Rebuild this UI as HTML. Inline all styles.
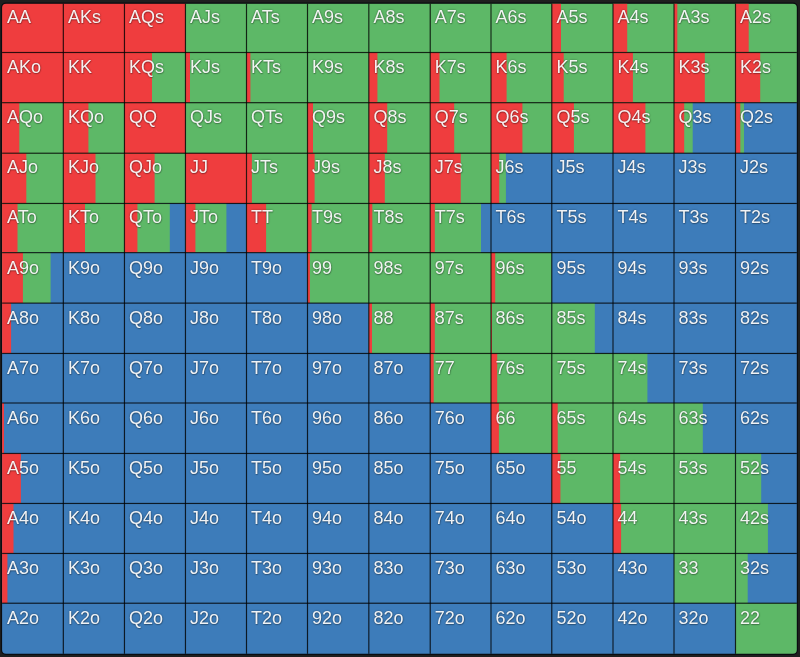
<!DOCTYPE html>
<html><head><meta charset="utf-8"><style>
html,body{margin:0;padding:0;background:#1f1f1f;width:800px;height:657px;overflow:hidden}
svg{position:absolute;left:0;top:0}
#t{position:absolute;left:0;top:0;width:800px;height:657px}
#t b{position:absolute;font:400 18px/18px "Liberation Sans",sans-serif;color:rgba(255,255,255,.93);text-shadow:0 0 2px rgba(0,0,0,.45),0.5px 0.5px 1px rgba(0,0,0,.25);white-space:nowrap}
</style></head><body>
<svg width="800" height="657" viewBox="0 0 800 657">
<defs><clipPath id="cp"><rect x="2.10" y="3.80" width="794.70" height="650.00" rx="4"/></clipPath></defs>
<rect x="0.90" y="2.60" width="797.10" height="652.40" rx="5" fill="#0a0d11"/>
<g><g clip-path="url(#cp)">
<rect x="1.50" y="3.20" width="61.80" height="49.30" fill="#ef3d3e"/>
<rect x="63.30" y="3.20" width="61.16" height="49.30" fill="#ef3d3e"/>
<rect x="124.46" y="3.20" width="61.00" height="49.30" fill="#ef3d3e"/>
<rect x="185.46" y="3.20" width="61.04" height="49.30" fill="#5db867"/>
<rect x="246.50" y="3.20" width="61.00" height="49.30" fill="#5db867"/>
<rect x="307.50" y="3.20" width="61.35" height="49.30" fill="#5db867"/>
<rect x="368.85" y="3.20" width="61.35" height="49.30" fill="#5db867"/>
<rect x="430.20" y="3.20" width="60.80" height="49.30" fill="#5db867"/>
<rect x="491.00" y="3.20" width="60.80" height="49.30" fill="#5db867"/>
<rect x="551.80" y="3.20" width="61.20" height="49.30" fill="#5db867"/><rect x="551.80" y="3.20" width="9.20" height="49.30" fill="#ef3d3e"/>
<rect x="613.00" y="3.20" width="61.00" height="49.30" fill="#5db867"/><rect x="613.00" y="3.20" width="14.20" height="49.30" fill="#ef3d3e"/>
<rect x="674.00" y="3.20" width="61.50" height="49.30" fill="#5db867"/><rect x="674.00" y="3.20" width="3.30" height="49.30" fill="#ef3d3e"/>
<rect x="735.50" y="3.20" width="61.90" height="49.30" fill="#5db867"/><rect x="735.50" y="3.20" width="13.20" height="49.30" fill="#ef3d3e"/>
<rect x="1.50" y="52.50" width="61.80" height="50.20" fill="#ef3d3e"/>
<rect x="63.30" y="52.50" width="61.16" height="50.20" fill="#ef3d3e"/>
<rect x="124.46" y="52.50" width="61.00" height="50.20" fill="#5db867"/><rect x="124.46" y="52.50" width="27.54" height="50.20" fill="#ef3d3e"/>
<rect x="185.46" y="52.50" width="61.04" height="50.20" fill="#5db867"/><rect x="185.46" y="52.50" width="4.54" height="50.20" fill="#ef3d3e"/>
<rect x="246.50" y="52.50" width="61.00" height="50.20" fill="#5db867"/><rect x="246.50" y="52.50" width="3.90" height="50.20" fill="#ef3d3e"/>
<rect x="307.50" y="52.50" width="61.35" height="50.20" fill="#5db867"/>
<rect x="368.85" y="52.50" width="61.35" height="50.20" fill="#5db867"/><rect x="368.85" y="52.50" width="8.55" height="50.20" fill="#ef3d3e"/>
<rect x="430.20" y="52.50" width="60.80" height="50.20" fill="#5db867"/><rect x="430.20" y="52.50" width="9.30" height="50.20" fill="#ef3d3e"/>
<rect x="491.00" y="52.50" width="60.80" height="50.20" fill="#5db867"/><rect x="491.00" y="52.50" width="15.60" height="50.20" fill="#ef3d3e"/>
<rect x="551.80" y="52.50" width="61.20" height="50.20" fill="#5db867"/><rect x="551.80" y="52.50" width="11.90" height="50.20" fill="#ef3d3e"/>
<rect x="613.00" y="52.50" width="61.00" height="50.20" fill="#5db867"/><rect x="613.00" y="52.50" width="19.90" height="50.20" fill="#ef3d3e"/>
<rect x="674.00" y="52.50" width="61.50" height="50.20" fill="#5db867"/><rect x="674.00" y="52.50" width="30.80" height="50.20" fill="#ef3d3e"/>
<rect x="735.50" y="52.50" width="61.90" height="50.20" fill="#5db867"/><rect x="735.50" y="52.50" width="24.70" height="50.20" fill="#ef3d3e"/>
<rect x="1.50" y="102.70" width="61.80" height="50.50" fill="#5db867"/><rect x="1.50" y="102.70" width="17.80" height="50.50" fill="#ef3d3e"/>
<rect x="63.30" y="102.70" width="61.16" height="50.50" fill="#5db867"/><rect x="63.30" y="102.70" width="25.10" height="50.50" fill="#ef3d3e"/>
<rect x="124.46" y="102.70" width="61.00" height="50.50" fill="#ef3d3e"/>
<rect x="185.46" y="102.70" width="61.04" height="50.50" fill="#5db867"/>
<rect x="246.50" y="102.70" width="61.00" height="50.50" fill="#5db867"/>
<rect x="307.50" y="102.70" width="61.35" height="50.50" fill="#5db867"/><rect x="307.50" y="102.70" width="5.50" height="50.50" fill="#ef3d3e"/>
<rect x="368.85" y="102.70" width="61.35" height="50.50" fill="#5db867"/><rect x="368.85" y="102.70" width="18.35" height="50.50" fill="#ef3d3e"/>
<rect x="430.20" y="102.70" width="60.80" height="50.50" fill="#5db867"/><rect x="430.20" y="102.70" width="24.00" height="50.50" fill="#ef3d3e"/>
<rect x="491.00" y="102.70" width="60.80" height="50.50" fill="#5db867"/><rect x="491.00" y="102.70" width="31.40" height="50.50" fill="#ef3d3e"/>
<rect x="551.80" y="102.70" width="61.20" height="50.50" fill="#5db867"/><rect x="551.80" y="102.70" width="22.10" height="50.50" fill="#ef3d3e"/>
<rect x="613.00" y="102.70" width="61.00" height="50.50" fill="#5db867"/><rect x="613.00" y="102.70" width="32.40" height="50.50" fill="#ef3d3e"/>
<rect x="674.00" y="102.70" width="61.50" height="50.50" fill="#3d7cba"/><rect x="674.00" y="102.70" width="18.70" height="50.50" fill="#5db867"/><rect x="674.00" y="102.70" width="10.20" height="50.50" fill="#ef3d3e"/>
<rect x="735.50" y="102.70" width="61.90" height="50.50" fill="#3d7cba"/><rect x="735.50" y="102.70" width="8.50" height="50.50" fill="#5db867"/><rect x="735.50" y="102.70" width="4.80" height="50.50" fill="#ef3d3e"/>
<rect x="1.50" y="153.20" width="61.80" height="50.25" fill="#5db867"/><rect x="1.50" y="153.20" width="24.80" height="50.25" fill="#ef3d3e"/>
<rect x="63.30" y="153.20" width="61.16" height="50.25" fill="#5db867"/><rect x="63.30" y="153.20" width="32.20" height="50.25" fill="#ef3d3e"/>
<rect x="124.46" y="153.20" width="61.00" height="50.25" fill="#5db867"/><rect x="124.46" y="153.20" width="30.14" height="50.25" fill="#ef3d3e"/>
<rect x="185.46" y="153.20" width="61.04" height="50.25" fill="#ef3d3e"/>
<rect x="246.50" y="153.20" width="61.00" height="50.25" fill="#5db867"/><rect x="246.50" y="153.20" width="5.40" height="50.25" fill="#ef3d3e"/>
<rect x="307.50" y="153.20" width="61.35" height="50.25" fill="#5db867"/><rect x="307.50" y="153.20" width="7.10" height="50.25" fill="#ef3d3e"/>
<rect x="368.85" y="153.20" width="61.35" height="50.25" fill="#5db867"/><rect x="368.85" y="153.20" width="15.95" height="50.25" fill="#ef3d3e"/>
<rect x="430.20" y="153.20" width="60.80" height="50.25" fill="#5db867"/><rect x="430.20" y="153.20" width="30.50" height="50.25" fill="#ef3d3e"/>
<rect x="491.00" y="153.20" width="60.80" height="50.25" fill="#3d7cba"/><rect x="491.00" y="153.20" width="14.90" height="50.25" fill="#5db867"/><rect x="491.00" y="153.20" width="8.20" height="50.25" fill="#ef3d3e"/>
<rect x="551.80" y="153.20" width="61.20" height="50.25" fill="#3d7cba"/>
<rect x="613.00" y="153.20" width="61.00" height="50.25" fill="#3d7cba"/>
<rect x="674.00" y="153.20" width="61.50" height="50.25" fill="#3d7cba"/>
<rect x="735.50" y="153.20" width="61.90" height="50.25" fill="#3d7cba"/>
<rect x="1.50" y="203.45" width="61.80" height="49.20" fill="#5db867"/><rect x="1.50" y="203.45" width="16.00" height="49.20" fill="#ef3d3e"/>
<rect x="63.30" y="203.45" width="61.16" height="49.20" fill="#5db867"/><rect x="63.30" y="203.45" width="21.70" height="49.20" fill="#ef3d3e"/>
<rect x="124.46" y="203.45" width="61.00" height="49.20" fill="#3d7cba"/><rect x="124.46" y="203.45" width="45.34" height="49.20" fill="#5db867"/><rect x="124.46" y="203.45" width="12.94" height="49.20" fill="#ef3d3e"/>
<rect x="185.46" y="203.45" width="61.04" height="49.20" fill="#3d7cba"/><rect x="185.46" y="203.45" width="40.94" height="49.20" fill="#5db867"/><rect x="185.46" y="203.45" width="9.94" height="49.20" fill="#ef3d3e"/>
<rect x="246.50" y="203.45" width="61.00" height="49.20" fill="#5db867"/><rect x="246.50" y="203.45" width="19.60" height="49.20" fill="#ef3d3e"/>
<rect x="307.50" y="203.45" width="61.35" height="49.20" fill="#5db867"/><rect x="307.50" y="203.45" width="4.10" height="49.20" fill="#ef3d3e"/>
<rect x="368.85" y="203.45" width="61.35" height="49.20" fill="#5db867"/><rect x="368.85" y="203.45" width="3.45" height="49.20" fill="#ef3d3e"/>
<rect x="430.20" y="203.45" width="60.80" height="49.20" fill="#3d7cba"/><rect x="430.20" y="203.45" width="50.80" height="49.20" fill="#5db867"/><rect x="430.20" y="203.45" width="4.60" height="49.20" fill="#ef3d3e"/>
<rect x="491.00" y="203.45" width="60.80" height="49.20" fill="#3d7cba"/>
<rect x="551.80" y="203.45" width="61.20" height="49.20" fill="#3d7cba"/>
<rect x="613.00" y="203.45" width="61.00" height="49.20" fill="#3d7cba"/>
<rect x="674.00" y="203.45" width="61.50" height="49.20" fill="#3d7cba"/>
<rect x="735.50" y="203.45" width="61.90" height="49.20" fill="#3d7cba"/>
<rect x="1.50" y="252.65" width="61.80" height="50.45" fill="#3d7cba"/><rect x="1.50" y="252.65" width="49.10" height="50.45" fill="#5db867"/><rect x="1.50" y="252.65" width="21.40" height="50.45" fill="#ef3d3e"/>
<rect x="63.30" y="252.65" width="61.16" height="50.45" fill="#3d7cba"/>
<rect x="124.46" y="252.65" width="61.00" height="50.45" fill="#3d7cba"/>
<rect x="185.46" y="252.65" width="61.04" height="50.45" fill="#3d7cba"/>
<rect x="246.50" y="252.65" width="61.00" height="50.45" fill="#3d7cba"/>
<rect x="307.50" y="252.65" width="61.35" height="50.45" fill="#5db867"/><rect x="307.50" y="252.65" width="2.40" height="50.45" fill="#ef3d3e"/>
<rect x="368.85" y="252.65" width="61.35" height="50.45" fill="#5db867"/>
<rect x="430.20" y="252.65" width="60.80" height="50.45" fill="#5db867"/>
<rect x="491.00" y="252.65" width="60.80" height="50.45" fill="#5db867"/><rect x="491.00" y="252.65" width="4.20" height="50.45" fill="#ef3d3e"/>
<rect x="551.80" y="252.65" width="61.20" height="50.45" fill="#3d7cba"/>
<rect x="613.00" y="252.65" width="61.00" height="50.45" fill="#3d7cba"/>
<rect x="674.00" y="252.65" width="61.50" height="50.45" fill="#3d7cba"/>
<rect x="735.50" y="252.65" width="61.90" height="50.45" fill="#3d7cba"/>
<rect x="1.50" y="303.10" width="61.80" height="50.35" fill="#3d7cba"/><rect x="1.50" y="303.10" width="9.60" height="50.35" fill="#ef3d3e"/>
<rect x="63.30" y="303.10" width="61.16" height="50.35" fill="#3d7cba"/>
<rect x="124.46" y="303.10" width="61.00" height="50.35" fill="#3d7cba"/>
<rect x="185.46" y="303.10" width="61.04" height="50.35" fill="#3d7cba"/>
<rect x="246.50" y="303.10" width="61.00" height="50.35" fill="#3d7cba"/>
<rect x="307.50" y="303.10" width="61.35" height="50.35" fill="#3d7cba"/>
<rect x="368.85" y="303.10" width="61.35" height="50.35" fill="#5db867"/><rect x="368.85" y="303.10" width="3.15" height="50.35" fill="#ef3d3e"/>
<rect x="430.20" y="303.10" width="60.80" height="50.35" fill="#5db867"/><rect x="430.20" y="303.10" width="4.60" height="50.35" fill="#ef3d3e"/>
<rect x="491.00" y="303.10" width="60.80" height="50.35" fill="#5db867"/><rect x="491.00" y="303.10" width="0.90" height="50.35" fill="#ef3d3e"/>
<rect x="551.80" y="303.10" width="61.20" height="50.35" fill="#3d7cba"/><rect x="551.80" y="303.10" width="43.00" height="50.35" fill="#5db867"/>
<rect x="613.00" y="303.10" width="61.00" height="50.35" fill="#3d7cba"/>
<rect x="674.00" y="303.10" width="61.50" height="50.35" fill="#3d7cba"/>
<rect x="735.50" y="303.10" width="61.90" height="50.35" fill="#3d7cba"/>
<rect x="1.50" y="353.45" width="61.80" height="49.55" fill="#3d7cba"/>
<rect x="63.30" y="353.45" width="61.16" height="49.55" fill="#3d7cba"/>
<rect x="124.46" y="353.45" width="61.00" height="49.55" fill="#3d7cba"/>
<rect x="185.46" y="353.45" width="61.04" height="49.55" fill="#3d7cba"/>
<rect x="246.50" y="353.45" width="61.00" height="49.55" fill="#3d7cba"/>
<rect x="307.50" y="353.45" width="61.35" height="49.55" fill="#3d7cba"/>
<rect x="368.85" y="353.45" width="61.35" height="49.55" fill="#3d7cba"/>
<rect x="430.20" y="353.45" width="60.80" height="49.55" fill="#5db867"/><rect x="430.20" y="353.45" width="3.50" height="49.55" fill="#ef3d3e"/>
<rect x="491.00" y="353.45" width="60.80" height="49.55" fill="#5db867"/><rect x="491.00" y="353.45" width="6.20" height="49.55" fill="#ef3d3e"/>
<rect x="551.80" y="353.45" width="61.20" height="49.55" fill="#5db867"/>
<rect x="613.00" y="353.45" width="61.00" height="49.55" fill="#3d7cba"/><rect x="613.00" y="353.45" width="34.40" height="49.55" fill="#5db867"/>
<rect x="674.00" y="353.45" width="61.50" height="49.55" fill="#3d7cba"/>
<rect x="735.50" y="353.45" width="61.90" height="49.55" fill="#3d7cba"/>
<rect x="1.50" y="403.00" width="61.80" height="50.45" fill="#3d7cba"/><rect x="1.50" y="403.00" width="2.50" height="50.45" fill="#ef3d3e"/>
<rect x="63.30" y="403.00" width="61.16" height="50.45" fill="#3d7cba"/>
<rect x="124.46" y="403.00" width="61.00" height="50.45" fill="#3d7cba"/>
<rect x="185.46" y="403.00" width="61.04" height="50.45" fill="#3d7cba"/>
<rect x="246.50" y="403.00" width="61.00" height="50.45" fill="#3d7cba"/>
<rect x="307.50" y="403.00" width="61.35" height="50.45" fill="#3d7cba"/>
<rect x="368.85" y="403.00" width="61.35" height="50.45" fill="#3d7cba"/>
<rect x="430.20" y="403.00" width="60.80" height="50.45" fill="#3d7cba"/>
<rect x="491.00" y="403.00" width="60.80" height="50.45" fill="#5db867"/><rect x="491.00" y="403.00" width="7.90" height="50.45" fill="#ef3d3e"/>
<rect x="551.80" y="403.00" width="61.20" height="50.45" fill="#5db867"/><rect x="551.80" y="403.00" width="5.90" height="50.45" fill="#ef3d3e"/>
<rect x="613.00" y="403.00" width="61.00" height="50.45" fill="#5db867"/>
<rect x="674.00" y="403.00" width="61.50" height="50.45" fill="#3d7cba"/><rect x="674.00" y="403.00" width="28.80" height="50.45" fill="#5db867"/>
<rect x="735.50" y="403.00" width="61.90" height="50.45" fill="#3d7cba"/>
<rect x="1.50" y="453.45" width="61.80" height="50.00" fill="#3d7cba"/><rect x="1.50" y="453.45" width="19.40" height="50.00" fill="#ef3d3e"/>
<rect x="63.30" y="453.45" width="61.16" height="50.00" fill="#3d7cba"/>
<rect x="124.46" y="453.45" width="61.00" height="50.00" fill="#3d7cba"/>
<rect x="185.46" y="453.45" width="61.04" height="50.00" fill="#3d7cba"/>
<rect x="246.50" y="453.45" width="61.00" height="50.00" fill="#3d7cba"/>
<rect x="307.50" y="453.45" width="61.35" height="50.00" fill="#3d7cba"/>
<rect x="368.85" y="453.45" width="61.35" height="50.00" fill="#3d7cba"/>
<rect x="430.20" y="453.45" width="60.80" height="50.00" fill="#3d7cba"/>
<rect x="491.00" y="453.45" width="60.80" height="50.00" fill="#3d7cba"/>
<rect x="551.80" y="453.45" width="61.20" height="50.00" fill="#5db867"/><rect x="551.80" y="453.45" width="8.60" height="50.00" fill="#ef3d3e"/>
<rect x="613.00" y="453.45" width="61.00" height="50.00" fill="#5db867"/><rect x="613.00" y="453.45" width="7.10" height="50.00" fill="#ef3d3e"/>
<rect x="674.00" y="453.45" width="61.50" height="50.00" fill="#5db867"/>
<rect x="735.50" y="453.45" width="61.90" height="50.00" fill="#3d7cba"/><rect x="735.50" y="453.45" width="25.70" height="50.00" fill="#5db867"/>
<rect x="1.50" y="503.45" width="61.80" height="50.00" fill="#3d7cba"/><rect x="1.50" y="503.45" width="12.00" height="50.00" fill="#ef3d3e"/>
<rect x="63.30" y="503.45" width="61.16" height="50.00" fill="#3d7cba"/>
<rect x="124.46" y="503.45" width="61.00" height="50.00" fill="#3d7cba"/>
<rect x="185.46" y="503.45" width="61.04" height="50.00" fill="#3d7cba"/>
<rect x="246.50" y="503.45" width="61.00" height="50.00" fill="#3d7cba"/>
<rect x="307.50" y="503.45" width="61.35" height="50.00" fill="#3d7cba"/>
<rect x="368.85" y="503.45" width="61.35" height="50.00" fill="#3d7cba"/>
<rect x="430.20" y="503.45" width="60.80" height="50.00" fill="#3d7cba"/>
<rect x="491.00" y="503.45" width="60.80" height="50.00" fill="#3d7cba"/>
<rect x="551.80" y="503.45" width="61.20" height="50.00" fill="#3d7cba"/>
<rect x="613.00" y="503.45" width="61.00" height="50.00" fill="#5db867"/><rect x="613.00" y="503.45" width="8.10" height="50.00" fill="#ef3d3e"/>
<rect x="674.00" y="503.45" width="61.50" height="50.00" fill="#5db867"/>
<rect x="735.50" y="503.45" width="61.90" height="50.00" fill="#3d7cba"/><rect x="735.50" y="503.45" width="32.40" height="50.00" fill="#5db867"/>
<rect x="1.50" y="553.45" width="61.80" height="49.75" fill="#3d7cba"/><rect x="1.50" y="553.45" width="5.90" height="49.75" fill="#ef3d3e"/>
<rect x="63.30" y="553.45" width="61.16" height="49.75" fill="#3d7cba"/>
<rect x="124.46" y="553.45" width="61.00" height="49.75" fill="#3d7cba"/>
<rect x="185.46" y="553.45" width="61.04" height="49.75" fill="#3d7cba"/>
<rect x="246.50" y="553.45" width="61.00" height="49.75" fill="#3d7cba"/>
<rect x="307.50" y="553.45" width="61.35" height="49.75" fill="#3d7cba"/>
<rect x="368.85" y="553.45" width="61.35" height="49.75" fill="#3d7cba"/>
<rect x="430.20" y="553.45" width="60.80" height="49.75" fill="#3d7cba"/>
<rect x="491.00" y="553.45" width="60.80" height="49.75" fill="#3d7cba"/>
<rect x="551.80" y="553.45" width="61.20" height="49.75" fill="#3d7cba"/>
<rect x="613.00" y="553.45" width="61.00" height="49.75" fill="#3d7cba"/>
<rect x="674.00" y="553.45" width="61.50" height="49.75" fill="#5db867"/>
<rect x="735.50" y="553.45" width="61.90" height="49.75" fill="#3d7cba"/><rect x="735.50" y="553.45" width="12.20" height="49.75" fill="#5db867"/>
<rect x="1.50" y="603.20" width="61.80" height="51.20" fill="#3d7cba"/>
<rect x="63.30" y="603.20" width="61.16" height="51.20" fill="#3d7cba"/>
<rect x="124.46" y="603.20" width="61.00" height="51.20" fill="#3d7cba"/>
<rect x="185.46" y="603.20" width="61.04" height="51.20" fill="#3d7cba"/>
<rect x="246.50" y="603.20" width="61.00" height="51.20" fill="#3d7cba"/>
<rect x="307.50" y="603.20" width="61.35" height="51.20" fill="#3d7cba"/>
<rect x="368.85" y="603.20" width="61.35" height="51.20" fill="#3d7cba"/>
<rect x="430.20" y="603.20" width="60.80" height="51.20" fill="#3d7cba"/>
<rect x="491.00" y="603.20" width="60.80" height="51.20" fill="#3d7cba"/>
<rect x="551.80" y="603.20" width="61.20" height="51.20" fill="#3d7cba"/>
<rect x="613.00" y="603.20" width="61.00" height="51.20" fill="#3d7cba"/>
<rect x="674.00" y="603.20" width="61.50" height="51.20" fill="#3d7cba"/>
<rect x="735.50" y="603.20" width="61.90" height="51.20" fill="#5db867"/>
<rect x="62.70" y="2.60" width="1.2" height="652.40" fill="#000" fill-opacity="0.74"/><rect x="123.86" y="2.60" width="1.2" height="652.40" fill="#000" fill-opacity="0.74"/><rect x="184.86" y="2.60" width="1.2" height="652.40" fill="#000" fill-opacity="0.74"/><rect x="245.90" y="2.60" width="1.2" height="652.40" fill="#000" fill-opacity="0.74"/><rect x="306.90" y="2.60" width="1.2" height="652.40" fill="#000" fill-opacity="0.74"/><rect x="368.25" y="2.60" width="1.2" height="652.40" fill="#000" fill-opacity="0.74"/><rect x="429.60" y="2.60" width="1.2" height="652.40" fill="#000" fill-opacity="0.74"/><rect x="490.40" y="2.60" width="1.2" height="652.40" fill="#000" fill-opacity="0.74"/><rect x="551.20" y="2.60" width="1.2" height="652.40" fill="#000" fill-opacity="0.74"/><rect x="612.40" y="2.60" width="1.2" height="652.40" fill="#000" fill-opacity="0.74"/><rect x="673.40" y="2.60" width="1.2" height="652.40" fill="#000" fill-opacity="0.74"/><rect x="734.90" y="2.60" width="1.2" height="652.40" fill="#000" fill-opacity="0.74"/><rect x="0.90" y="51.90" width="797.10" height="1.2" fill="#000" fill-opacity="0.74"/><rect x="0.90" y="102.10" width="797.10" height="1.2" fill="#000" fill-opacity="0.74"/><rect x="0.90" y="152.60" width="797.10" height="1.2" fill="#000" fill-opacity="0.74"/><rect x="0.90" y="202.85" width="797.10" height="1.2" fill="#000" fill-opacity="0.74"/><rect x="0.90" y="252.05" width="797.10" height="1.2" fill="#000" fill-opacity="0.74"/><rect x="0.90" y="302.50" width="797.10" height="1.2" fill="#000" fill-opacity="0.74"/><rect x="0.90" y="352.85" width="797.10" height="1.2" fill="#000" fill-opacity="0.74"/><rect x="0.90" y="402.40" width="797.10" height="1.2" fill="#000" fill-opacity="0.74"/><rect x="0.90" y="452.85" width="797.10" height="1.2" fill="#000" fill-opacity="0.74"/><rect x="0.90" y="502.85" width="797.10" height="1.2" fill="#000" fill-opacity="0.74"/><rect x="0.90" y="552.85" width="797.10" height="1.2" fill="#000" fill-opacity="0.74"/><rect x="0.90" y="602.60" width="797.10" height="1.2" fill="#000" fill-opacity="0.74"/>
</g></g></svg>
<div id="t">
<b style="left:7.10px;top:8.17px">AA</b><b style="left:67.90px;top:8.17px">AKs</b><b style="left:129.06px;top:8.17px">AQs</b><b style="left:190.06px;top:8.17px">AJs</b><b style="left:251.10px;top:8.17px">ATs</b><b style="left:312.10px;top:8.17px">A9s</b><b style="left:373.45px;top:8.17px">A8s</b><b style="left:434.80px;top:8.17px">A7s</b><b style="left:495.60px;top:8.17px">A6s</b><b style="left:556.40px;top:8.17px">A5s</b><b style="left:617.60px;top:8.17px">A4s</b><b style="left:678.60px;top:8.17px">A3s</b><b style="left:740.10px;top:8.17px">A2s</b>
<b style="left:7.10px;top:58.25px">AKo</b><b style="left:67.90px;top:58.25px">KK</b><b style="left:129.06px;top:58.25px">KQs</b><b style="left:190.06px;top:58.25px">KJs</b><b style="left:251.10px;top:58.25px">KTs</b><b style="left:312.10px;top:58.25px">K9s</b><b style="left:373.45px;top:58.25px">K8s</b><b style="left:434.80px;top:58.25px">K7s</b><b style="left:495.60px;top:58.25px">K6s</b><b style="left:556.40px;top:58.25px">K5s</b><b style="left:617.60px;top:58.25px">K4s</b><b style="left:678.60px;top:58.25px">K3s</b><b style="left:740.10px;top:58.25px">K2s</b>
<b style="left:7.10px;top:108.33px">AQo</b><b style="left:67.90px;top:108.33px">KQo</b><b style="left:129.06px;top:108.33px">QQ</b><b style="left:190.06px;top:108.33px">QJs</b><b style="left:251.10px;top:108.33px">QTs</b><b style="left:312.10px;top:108.33px">Q9s</b><b style="left:373.45px;top:108.33px">Q8s</b><b style="left:434.80px;top:108.33px">Q7s</b><b style="left:495.60px;top:108.33px">Q6s</b><b style="left:556.40px;top:108.33px">Q5s</b><b style="left:617.60px;top:108.33px">Q4s</b><b style="left:678.60px;top:108.33px">Q3s</b><b style="left:740.10px;top:108.33px">Q2s</b>
<b style="left:7.10px;top:158.41px">AJo</b><b style="left:67.90px;top:158.41px">KJo</b><b style="left:129.06px;top:158.41px">QJo</b><b style="left:190.06px;top:158.41px">JJ</b><b style="left:251.10px;top:158.41px">JTs</b><b style="left:312.10px;top:158.41px">J9s</b><b style="left:373.45px;top:158.41px">J8s</b><b style="left:434.80px;top:158.41px">J7s</b><b style="left:495.60px;top:158.41px">J6s</b><b style="left:556.40px;top:158.41px">J5s</b><b style="left:617.60px;top:158.41px">J4s</b><b style="left:678.60px;top:158.41px">J3s</b><b style="left:740.10px;top:158.41px">J2s</b>
<b style="left:7.10px;top:208.49px">ATo</b><b style="left:67.90px;top:208.49px">KTo</b><b style="left:129.06px;top:208.49px">QTo</b><b style="left:190.06px;top:208.49px">JTo</b><b style="left:251.10px;top:208.49px">TT</b><b style="left:312.10px;top:208.49px">T9s</b><b style="left:373.45px;top:208.49px">T8s</b><b style="left:434.80px;top:208.49px">T7s</b><b style="left:495.60px;top:208.49px">T6s</b><b style="left:556.40px;top:208.49px">T5s</b><b style="left:617.60px;top:208.49px">T4s</b><b style="left:678.60px;top:208.49px">T3s</b><b style="left:740.10px;top:208.49px">T2s</b>
<b style="left:7.10px;top:258.57px">A9o</b><b style="left:67.90px;top:258.57px">K9o</b><b style="left:129.06px;top:258.57px">Q9o</b><b style="left:190.06px;top:258.57px">J9o</b><b style="left:251.10px;top:258.57px">T9o</b><b style="left:312.10px;top:258.57px">99</b><b style="left:373.45px;top:258.57px">98s</b><b style="left:434.80px;top:258.57px">97s</b><b style="left:495.60px;top:258.57px">96s</b><b style="left:556.40px;top:258.57px">95s</b><b style="left:617.60px;top:258.57px">94s</b><b style="left:678.60px;top:258.57px">93s</b><b style="left:740.10px;top:258.57px">92s</b>
<b style="left:7.10px;top:308.65px">A8o</b><b style="left:67.90px;top:308.65px">K8o</b><b style="left:129.06px;top:308.65px">Q8o</b><b style="left:190.06px;top:308.65px">J8o</b><b style="left:251.10px;top:308.65px">T8o</b><b style="left:312.10px;top:308.65px">98o</b><b style="left:373.45px;top:308.65px">88</b><b style="left:434.80px;top:308.65px">87s</b><b style="left:495.60px;top:308.65px">86s</b><b style="left:556.40px;top:308.65px">85s</b><b style="left:617.60px;top:308.65px">84s</b><b style="left:678.60px;top:308.65px">83s</b><b style="left:740.10px;top:308.65px">82s</b>
<b style="left:7.10px;top:358.73px">A7o</b><b style="left:67.90px;top:358.73px">K7o</b><b style="left:129.06px;top:358.73px">Q7o</b><b style="left:190.06px;top:358.73px">J7o</b><b style="left:251.10px;top:358.73px">T7o</b><b style="left:312.10px;top:358.73px">97o</b><b style="left:373.45px;top:358.73px">87o</b><b style="left:434.80px;top:358.73px">77</b><b style="left:495.60px;top:358.73px">76s</b><b style="left:556.40px;top:358.73px">75s</b><b style="left:617.60px;top:358.73px">74s</b><b style="left:678.60px;top:358.73px">73s</b><b style="left:740.10px;top:358.73px">72s</b>
<b style="left:7.10px;top:408.81px">A6o</b><b style="left:67.90px;top:408.81px">K6o</b><b style="left:129.06px;top:408.81px">Q6o</b><b style="left:190.06px;top:408.81px">J6o</b><b style="left:251.10px;top:408.81px">T6o</b><b style="left:312.10px;top:408.81px">96o</b><b style="left:373.45px;top:408.81px">86o</b><b style="left:434.80px;top:408.81px">76o</b><b style="left:495.60px;top:408.81px">66</b><b style="left:556.40px;top:408.81px">65s</b><b style="left:617.60px;top:408.81px">64s</b><b style="left:678.60px;top:408.81px">63s</b><b style="left:740.10px;top:408.81px">62s</b>
<b style="left:7.10px;top:458.89px">A5o</b><b style="left:67.90px;top:458.89px">K5o</b><b style="left:129.06px;top:458.89px">Q5o</b><b style="left:190.06px;top:458.89px">J5o</b><b style="left:251.10px;top:458.89px">T5o</b><b style="left:312.10px;top:458.89px">95o</b><b style="left:373.45px;top:458.89px">85o</b><b style="left:434.80px;top:458.89px">75o</b><b style="left:495.60px;top:458.89px">65o</b><b style="left:556.40px;top:458.89px">55</b><b style="left:617.60px;top:458.89px">54s</b><b style="left:678.60px;top:458.89px">53s</b><b style="left:740.10px;top:458.89px">52s</b>
<b style="left:7.10px;top:508.97px">A4o</b><b style="left:67.90px;top:508.97px">K4o</b><b style="left:129.06px;top:508.97px">Q4o</b><b style="left:190.06px;top:508.97px">J4o</b><b style="left:251.10px;top:508.97px">T4o</b><b style="left:312.10px;top:508.97px">94o</b><b style="left:373.45px;top:508.97px">84o</b><b style="left:434.80px;top:508.97px">74o</b><b style="left:495.60px;top:508.97px">64o</b><b style="left:556.40px;top:508.97px">54o</b><b style="left:617.60px;top:508.97px">44</b><b style="left:678.60px;top:508.97px">43s</b><b style="left:740.10px;top:508.97px">42s</b>
<b style="left:7.10px;top:559.05px">A3o</b><b style="left:67.90px;top:559.05px">K3o</b><b style="left:129.06px;top:559.05px">Q3o</b><b style="left:190.06px;top:559.05px">J3o</b><b style="left:251.10px;top:559.05px">T3o</b><b style="left:312.10px;top:559.05px">93o</b><b style="left:373.45px;top:559.05px">83o</b><b style="left:434.80px;top:559.05px">73o</b><b style="left:495.60px;top:559.05px">63o</b><b style="left:556.40px;top:559.05px">53o</b><b style="left:617.60px;top:559.05px">43o</b><b style="left:678.60px;top:559.05px">33</b><b style="left:740.10px;top:559.05px">32s</b>
<b style="left:7.10px;top:609.13px">A2o</b><b style="left:67.90px;top:609.13px">K2o</b><b style="left:129.06px;top:609.13px">Q2o</b><b style="left:190.06px;top:609.13px">J2o</b><b style="left:251.10px;top:609.13px">T2o</b><b style="left:312.10px;top:609.13px">92o</b><b style="left:373.45px;top:609.13px">82o</b><b style="left:434.80px;top:609.13px">72o</b><b style="left:495.60px;top:609.13px">62o</b><b style="left:556.40px;top:609.13px">52o</b><b style="left:617.60px;top:609.13px">42o</b><b style="left:678.60px;top:609.13px">32o</b><b style="left:740.10px;top:609.13px">22</b>
</div></body></html>
